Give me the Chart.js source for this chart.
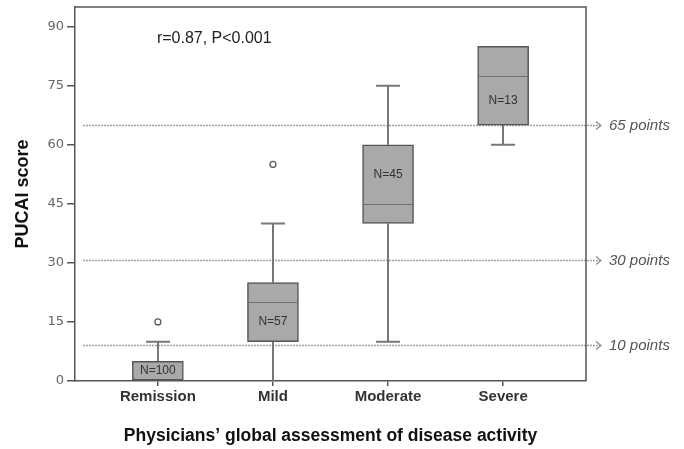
<!DOCTYPE html>
<html>
<head>
<meta charset="utf-8">
<script src="https://cdn.jsdelivr.net/npm/chart.js@4.4.1/dist/chart.umd.min.js"></script>
<style>
html,body{margin:0;padding:0;background:#fff;}
#wrap{width:684px;height:449px;}
</style>
</head>
<body>
<div id="wrap"><canvas id="c" width="684" height="449"></canvas></div>
<script>
const categories = ['Remission', 'Mild', 'Moderate', 'Severe'];
const whiskerLow = [0, 0, 10, 60];
const q1 = [0, 10, 40, 65];
const median = [0, 20, 45, 77.5];
const q3 = [5, 25, 60, 85];
const whiskerHigh = [10, 40, 75, 85];
const nLabels = ['N=100', 'N=57', 'N=45', 'N=13'];
const outlierCat = [0, 1];
const outlierVal = [15, 55];
const yTicks = [0, 15, 30, 45, 60, 75, 90];
const refValues = [65, 30.7, 9.2];
const refLabels = ['65 points', '30 points', '10 points'];
const annotationText = 'r=0.87, P<0.001';
const annotationPos = [0.49, 87];

const boxData = categories.map((c, i) => ({x: i, y: [q1[i], q3[i]]}));
const outlierData = outlierCat.map((c, i) => ({x: c, y: outlierVal[i]}));

const boxPlugin = {
  id: 'boxExtras',
  beforeDatasetsDraw(chart) {
    const {ctx, chartArea: a, scales: {x, y}} = chart;
    ctx.save();
    refValues.forEach((v, i) => {
      const py = Math.round(y.getPixelForValue(v)) + 0.5;
      ctx.strokeStyle = '#a0a0a0';
      ctx.lineWidth = 1.5;
      ctx.setLineDash([2, 1]);
      ctx.beginPath();
      ctx.moveTo(a.left + 8, py);
      ctx.lineTo(a.right + 14, py);
      ctx.stroke();
      ctx.setLineDash([]);
      ctx.lineWidth = 1.2;
      ctx.strokeStyle = '#888';
      ctx.beginPath();
      ctx.moveTo(a.right + 10, py - 4);
      ctx.lineTo(a.right + 15, py);
      ctx.lineTo(a.right + 10, py + 4);
      ctx.stroke();
      ctx.fillStyle = '#555';
      ctx.font = 'italic 15px "Liberation Sans", Arial, sans-serif';
      ctx.textAlign = 'left';
      ctx.textBaseline = 'middle';
      ctx.fillText(refLabels[i], a.right + 23, py);
    });
    ctx.strokeStyle = '#777';
    ctx.lineWidth = 2;
    categories.forEach((c, i) => {
      const px = Math.round(x.getPixelForValue(i));
      const cap = 12;
      if (whiskerHigh[i] > q3[i]) {
        const t = y.getPixelForValue(whiskerHigh[i]);
        ctx.beginPath();
        ctx.moveTo(px, y.getPixelForValue(q3[i]));
        ctx.lineTo(px, t);
        ctx.moveTo(px - cap, t);
        ctx.lineTo(px + cap, t);
        ctx.stroke();
      }
      if (whiskerLow[i] < q1[i]) {
        const b = y.getPixelForValue(whiskerLow[i]);
        ctx.beginPath();
        ctx.moveTo(px, y.getPixelForValue(q1[i]));
        ctx.lineTo(px, b);
        if (whiskerLow[i] > 0) {
          ctx.moveTo(px - cap, b);
          ctx.lineTo(px + cap, b);
        }
        ctx.stroke();
      }
    });
    ctx.restore();
  },
  afterDatasetsDraw(chart) {
    const {ctx, chartArea: a, scales: {x, y}} = chart;
    ctx.save();
    categories.forEach((c, i) => {
      const px = x.getPixelForValue(i);
      const half = 25;
      if (median[i] > q1[i]) {
        const my = Math.round(y.getPixelForValue(median[i])) + 0.5;
        ctx.strokeStyle = '#707070';
        ctx.lineWidth = 1.2;
        ctx.beginPath();
        ctx.moveTo(px - half, my);
        ctx.lineTo(px + half, my);
        ctx.stroke();
      }
      const lower = median[i] - q1[i];
      const upper = q3[i] - median[i];
      const ly = lower >= upper ? (q1[i] + median[i]) / 2 : (median[i] + q3[i]) / 2;
      ctx.fillStyle = '#333';
      ctx.font = '12px "Liberation Sans", Arial, sans-serif';
      ctx.textAlign = 'center';
      ctx.textBaseline = 'middle';
      ctx.fillText(nLabels[i], px, y.getPixelForValue(ly));
    });
    ctx.fillStyle = '#222';
    ctx.font = '16px "Liberation Sans", Arial, sans-serif';
    ctx.textAlign = 'center';
    ctx.textBaseline = 'middle';
    ctx.fillText(annotationText, x.getPixelForValue(annotationPos[0]), y.getPixelForValue(annotationPos[1]));
    ctx.strokeStyle = '#555';
    ctx.lineWidth = 1.5;
    ctx.beginPath();
    ctx.moveTo(a.left, a.top);
    ctx.lineTo(a.right, a.top);
    ctx.lineTo(a.right, a.bottom);
    ctx.stroke();
    ctx.restore();
  }
};

new Chart(document.getElementById('c'), {
  type: 'bar',
  data: {
    datasets: [
      {
        type: 'bar',
        data: boxData,
        backgroundColor: '#a9a9a9',
        borderColor: '#555',
        borderWidth: 1.5,
        borderSkipped: false,
        barThickness: 51,
        grouped: false,
        order: 2
      },
      {
        type: 'scatter',
        data: outlierData,
        pointStyle: 'circle',
        pointRadius: 3,
        pointBorderWidth: 1.2,
        pointBorderColor: '#555',
        pointBackgroundColor: '#fff',
        order: 1
      }
    ]
  },
  options: {
    responsive: false,
    animation: false,
    layout: {padding: {left: 0, top: 7, right: 98, bottom: 0}},
    plugins: {legend: {display: false}, tooltip: {enabled: false}},
    scales: {
      x: {
        type: 'linear',
        offset: false,
        min: -0.72,
        max: 3.72,
        afterBuildTicks(s) { s.ticks = categories.map((c, i) => ({value: i})); },
        afterFit(s) { s.height = 68; s.paddingLeft = 0; s.paddingRight = 0; },
        ticks: {
          callback: (v) => categories[v] ?? '',
          color: '#333',
          font: {family: '"Liberation Sans", Arial, sans-serif', size: 15, weight: 'bold'},
          padding: 2,
          maxRotation: 0,
          autoSkip: false
        },
        grid: {display: true, offset: false, drawOnChartArea: false, drawTicks: true, tickLength: 5, color: '#555', lineWidth: 1.5},
        border: {display: true, color: '#555', width: 1.5},
        title: {
          display: true,
          text: 'Physicians\u2019 global assessment of disease activity',
          color: '#111',
          font: {family: '"Liberation Sans", Arial, sans-serif', size: 17.5, weight: 'bold'},
          padding: {top: 0, bottom: 2}
        }
      },
      y: {
        min: 0,
        max: 95,
        afterBuildTicks(s) { s.ticks = yTicks.map(v => ({value: v})); },
        afterFit(s) { s.width = 75; s.paddingTop = 0; s.paddingBottom = 0; },
        ticks: {
          color: '#666',
          font: {family: '"DejaVu Sans", sans-serif', size: 13},
          padding: 3
        },
        grid: {display: true, drawOnChartArea: false, drawTicks: true, tickLength: 8, color: '#555', lineWidth: 1.5},
        border: {display: true, color: '#555', width: 1.5},
        title: {
          display: true,
          text: 'PUCAI score',
          color: '#111',
          font: {family: '"Liberation Sans", Arial, sans-serif', size: 18, weight: 'bold'},
          padding: {top: 12, bottom: 0}
        }
      }
    }
  },
  plugins: [boxPlugin]
});
</script>
</body>
</html>
